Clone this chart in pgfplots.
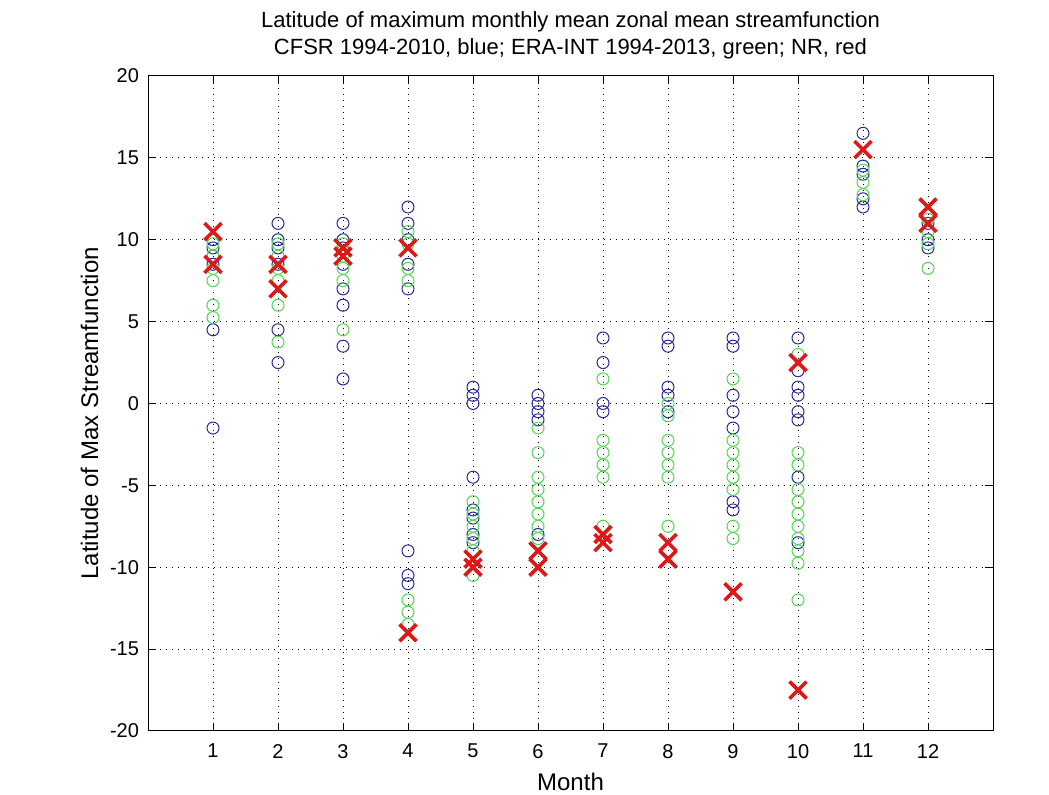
\documentclass[border=0pt]{standalone}
\usepackage{pgfplots}
\pgfplotsset{compat=1.18}
\usepackage{fontspec}
\setmainfont{Liberation Sans}
\definecolor{cblue}{RGB}{40,40,150}
\definecolor{cgreen}{RGB}{80,215,80}
\definecolor{cred}{RGB}{220,25,25}
\begin{document}
\begin{tikzpicture}
\useasboundingbox[fill=white] (0,0) rectangle (524.5pt,397.5pt);
\begin{axis}[
  scale only axis, width=422.5pt, height=327.5pt,
  at={(74pt,32pt)}, anchor=south west,
  xmin=0, xmax=13, ymin=-20, ymax=20,
  xtick={1,...,12}, ytick={-20,-15,...,20},
  tick align=inside, tick pos=both,
  major tick length=4pt,
  grid=major,
  grid style={black, line width=0.5pt, dash pattern=on 0.6pt off 2.4pt},
  axis line style={black, line width=0.5pt},
  every tick/.style={black, line width=0.5pt},
  /pgf/number format/assume math mode=true,
  tick label style={font=\fontsize{10}{12}\selectfont},
  yticklabel style={xshift=-1pt},
  xticklabel style={yshift=-3pt},
  title style={align=center, font=\fontsize{11}{13.5}\selectfont, yshift=-1pt},
  title={Latitude of maximum monthly mean zonal mean streamfunction\\CFSR 1994-2010, blue; ERA-INT 1994-2013, green; NR, red},
  xlabel={Month}, ylabel={Latitude of Max Streamfunction},
  label style={font=\fontsize{12}{14}\selectfont},
  xlabel style={yshift=-0.5pt},
  ylabel style={at={(ticklabel cs:0.485)}, yshift=-1pt},
]
\addplot[only marks, mark=o, mark size=3pt, mark options={draw=cblue, line width=0.5pt}] coordinates {
(1,10) (1,9.5) (1,9) (1,8.5) (1,4.5) (1,-1.5)
(2,11) (2,10) (2,9.5) (2,8.5) (2,4.5) (2,2.5)
(3,11) (3,10) (3,9.5) (3,8.5) (3,7) (3,6) (3,3.5) (3,1.5)
(4,12) (4,11) (4,10) (4,8.5) (4,7) (4,-9) (4,-10.5) (4,-11)
(5,1) (5,0.5) (5,0) (5,-4.5) (5,-6.5) (5,-7) (5,-8) (5,-8.5)
(6,0.5) (6,0) (6,-0.5) (6,-1) (6,-8)
(7,4) (7,2.5) (7,0) (7,-0.5)
(8,4) (8,3.5) (8,1) (8,0.5) (8,-0.5)
(9,4) (9,3.5) (9,0.5) (9,-0.5) (9,-1.5) (9,-6) (9,-6.5)
(10,4) (10,2) (10,1) (10,0.5) (10,-0.5) (10,-1) (10,-4.5) (10,-8.5)
(11,16.5) (11,14.5) (11,14) (11,12.5) (11,12)
(12,11.5) (12,11) (12,10) (12,9.5)
};
\addplot[only marks, mark=o, mark size=3pt, mark options={draw=cgreen, line width=0.5pt}] coordinates {
(1,9.75) (1,9) (1,8.25) (1,7.5) (1,6) (1,5.25)
(2,9.75) (2,9) (2,8.25) (2,7.5) (2,6) (2,3.75)
(3,9.75) (3,9) (3,8.25) (3,7.5) (3,4.5)
(4,10.5) (4,9.75) (4,8.25) (4,7.5) (4,-12) (4,-12.75) (4,-13.5)
(5,-6) (5,-6.75) (5,-7.5) (5,-8.25) (5,-9) (5,-10.5)
(6,-1.5) (6,-3) (6,-4.5) (6,-5.25) (6,-6) (6,-6.75) (6,-7.5) (6,-8.25)
(7,1.5) (7,-2.25) (7,-3) (7,-3.75) (7,-4.5) (7,-7.5)
(8,0) (8,-0.75) (8,-2.25) (8,-3) (8,-3.75) (8,-4.5) (8,-7.5)
(9,1.5) (9,-2.25) (9,-3) (9,-3.75) (9,-4.5) (9,-5.25) (9,-7.5) (9,-8.25)
(10,3) (10,-3) (10,-3.75) (10,-5.25) (10,-6) (10,-6.75) (10,-7.5) (10,-8.25) (10,-9) (10,-9.75) (10,-12)
(11,14.25) (11,13.5) (11,12.75)
(12,11.25) (12,10.5) (12,9.75) (12,8.25)
};
\addplot[only marks, mark=x, mark size=6pt, mark options={draw=cred, line width=1.8pt}] coordinates {
(1,10.5) (1,8.5)
(2,8.5) (2,7)
(3,9.5) (3,9)
(4,9.5) (4,-14)
(5,-9.5) (5,-10)
(6,-9) (6,-10)
(7,-8) (7,-8.5)
(8,-8.5) (8,-9.5)
(9,-11.5)
(10,2.5) (10,-17.5)
(11,15.5)
(12,12) (12,11)
};
\end{axis}
\end{tikzpicture}
\end{document}
